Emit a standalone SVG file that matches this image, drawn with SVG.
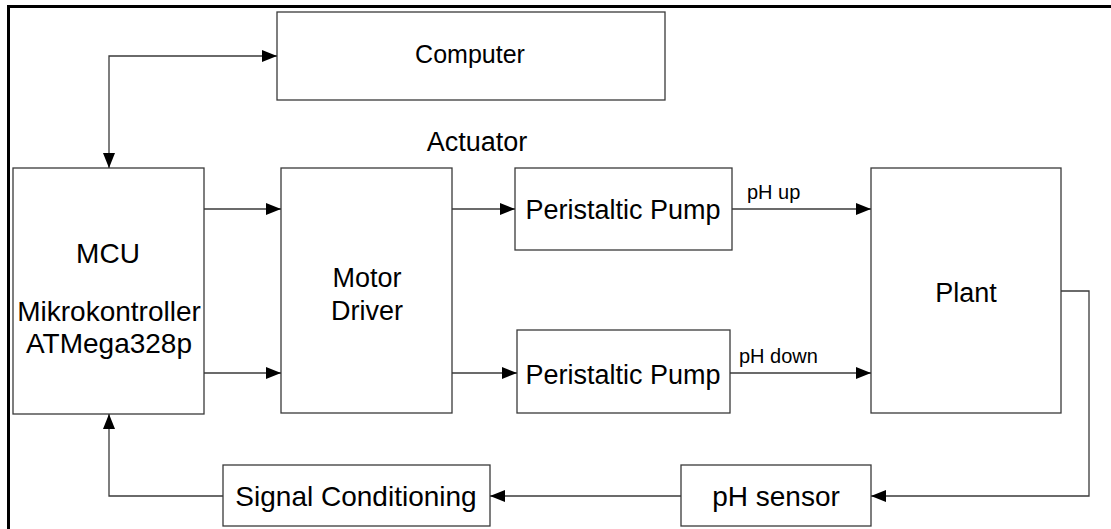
<svg xmlns="http://www.w3.org/2000/svg" width="1111" height="529" viewBox="0 0 1111 529">
  <defs>
    <marker id="arrow" markerUnits="userSpaceOnUse" markerWidth="17" markerHeight="14" refX="15" refY="6" orient="auto">
      <path d="M0,0 L15,6 L0,12 z" fill="#000"/>
    </marker>
    <marker id="arrowStart" markerUnits="userSpaceOnUse" markerWidth="17" markerHeight="14" refX="15" refY="6" orient="auto-start-reverse">
      <path d="M0,0 L15,6 L0,12 z" fill="#000"/>
    </marker>
    <style>
      .box { fill: #fff; stroke: #3a3a3a; stroke-width: 1.3; }
      .lbl { font-family: "Liberation Sans", Arial, sans-serif; font-size: 27px; fill: #000; text-anchor: middle; }
      .small { font-family: "Liberation Sans", Arial, sans-serif; font-size: 20px; fill: #000; }
      .conn { fill: none; stroke: #3a3a3a; stroke-width: 1.3; }
    </style>
  </defs>
  <rect width="1111" height="529" fill="#fff"/>
  <g id="frame">
    <line x1="7" y1="6.5" x2="1111" y2="6.5" stroke="#000" stroke-width="3"/>
    <line x1="8.5" y1="5" x2="8.5" y2="529" stroke="#000" stroke-width="3"/>
  </g>

  <g id="computer">
    <rect class="box" x="277" y="12" width="388" height="88"/>
    <text class="lbl" x="470" y="63" style="font-size:25px">Computer</text>
  </g>
  <g id="actuator-label">
    <text class="lbl" x="477" y="151">Actuator</text>
  </g>
  <g id="mcu">
    <rect class="box" x="13" y="168" width="191" height="246"/>
    <text class="lbl" x="108" y="263" style="font-size:28px">MCU</text>
    <text class="lbl" x="109" y="321" style="font-size:28px">Mikrokontroller</text>
    <text class="lbl" x="109" y="353" style="font-size:28px">ATMega328p</text>
  </g>
  <g id="motor-driver">
    <rect class="box" x="281" y="168" width="171" height="245"/>
    <text class="lbl" x="367" y="287">Motor</text>
    <text class="lbl" x="367" y="320">Driver</text>
  </g>
  <g id="pump-up">
    <rect class="box" x="515" y="168" width="217" height="82"/>
    <text class="lbl" x="623" y="219">Peristaltic Pump</text>
  </g>
  <g id="pump-down">
    <rect class="box" x="517" y="330" width="213" height="83"/>
    <text class="lbl" x="623" y="384">Peristaltic Pump</text>
  </g>
  <g id="plant">
    <rect class="box" x="871" y="168" width="190" height="245"/>
    <text class="lbl" x="966" y="302">Plant</text>
  </g>
  <g id="signal-conditioning">
    <rect class="box" x="223" y="465" width="267" height="61"/>
    <text class="lbl" x="356" y="506" style="font-size:28px">Signal Conditioning</text>
  </g>
  <g id="ph-sensor">
    <rect class="box" x="681" y="465" width="190" height="61"/>
    <text class="lbl" x="776" y="506" style="font-size:28px">pH sensor</text>
  </g>

  <g id="connectors">
    <path class="conn" d="M109,168 V56 H277" marker-start="url(#arrowStart)" marker-end="url(#arrow)"/>
    <path class="conn" d="M204,209 H281" marker-end="url(#arrow)"/>
    <path class="conn" d="M204,373 H281" marker-end="url(#arrow)"/>
    <path class="conn" d="M452,209 H515" marker-end="url(#arrow)"/>
    <path class="conn" d="M452,373 H517" marker-end="url(#arrow)"/>
    <path class="conn" d="M732,209 H871" marker-end="url(#arrow)"/>
    <path class="conn" d="M730,373 H871" marker-end="url(#arrow)"/>
    <path class="conn" d="M1061,291 H1089 V496 H871" marker-end="url(#arrow)"/>
    <path class="conn" d="M681,496 H490" marker-end="url(#arrow)"/>
    <path class="conn" d="M223,496 H109 V414" marker-end="url(#arrow)"/>
    <text class="small" x="747" y="199">pH up</text>
    <text class="small" x="739" y="363">pH down</text>
  </g>
</svg>
